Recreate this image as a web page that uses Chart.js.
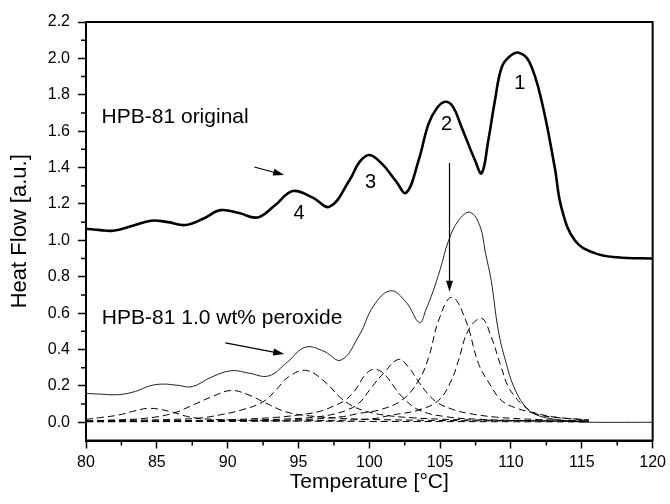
<!DOCTYPE html>
<html>
<head>
<meta charset="utf-8">
<script src="https://cdn.jsdelivr.net/npm/chart.js@4/dist/chart.umd.min.js"></script>
<style>
  html, body { margin: 0; padding: 0; background: #fff; }
  canvas { display: block; }
</style>
</head>
<body>
<canvas id="dsc_chart" width="670" height="504"></canvas>
<script>
// x tick labels and y tick labels
const xTicks = [80, 85, 90, 95, 100, 105, 110, 115, 120];
const yTicks = [0.0, 0.2, 0.4, 0.6, 0.8, 1.0, 1.2, 1.4, 1.6, 1.8, 2.0, 2.2];

// HPB-81 original (thick line), [temperature, heat flow]
const original = [
  [80, 1.064], [81, 1.056], [81.9, 1.053], [83.3, 1.08], [84.6, 1.108], [85.8, 1.1],
  [87, 1.084], [88.3, 1.12], [89.5, 1.166], [90.8, 1.15], [92.1, 1.126], [93.3, 1.19],
  [94.6, 1.271], [96, 1.235], [97.2, 1.185], [98.6, 1.33], [99.3, 1.43], [100, 1.469],
  [100.9, 1.42], [101.84, 1.33], [102.6, 1.262], [103.48, 1.44], [104.18, 1.64],
  [104.8, 1.73], [105.36, 1.762], [105.9, 1.735], [106.52, 1.62], [107.46, 1.44],
  [107.93, 1.368], [108.4, 1.55], [108.87, 1.77], [109.34, 1.95], [109.9, 2.01],
  [110.56, 2.031], [111.3, 1.98], [112.15, 1.77], [113.09, 1.4], [113.56, 1.18],
  [114.5, 1.0], [115.9, 0.93], [117.5, 0.907], [120, 0.9]
];

// HPB-81 1.0 wt% peroxide (thin line)
const peroxide = [
  [80, 0.159], [81, 0.155], [82.3, 0.152], [83.5, 0.17], [84.5, 0.2], [85.4, 0.21],
  [86.5, 0.203], [87.5, 0.196], [88.9, 0.25], [90.3, 0.284], [91.5, 0.27], [92.9, 0.255],
  [94.2, 0.33], [95.5, 0.413], [96.8, 0.39], [98.0, 0.342], [99.3, 0.48], [100.3, 0.64],
  [101.5, 0.723], [102.6, 0.66], [103.55, 0.547], [104.0, 0.62], [104.5, 0.72],
  [105.0, 0.84], [105.6, 1.0], [106.3, 1.11], [107.1, 1.154], [107.8, 1.08], [108.2, 0.93],
  [108.6, 0.78], [109.1, 0.507], [109.6, 0.342], [110.3, 0.177], [111.2, 0.07],
  [112, 0.035], [113, 0.018], [114, 0.007], [115, 0.002], [116, 0], [120, 0]
];

// fitted component peaks (dashed)
const peak1 = [
  [80, 0.016], [81, 0.026], [82.3, 0.04], [83.4, 0.062], [84.5, 0.077], [85.9, 0.06],
  [87, 0.035], [87.7, 0.024], [89, 0.016], [91, 0.011], [95, 0.007], [100, 0.005],
  [105, 0.004], [110, 0.003], [115.5, 0.002]
];
const peak2 = [
  [80, 0.008], [82, 0.013], [84.2, 0.022], [86.1, 0.049], [87.7, 0.1], [88.9, 0.141],
  [90.25, 0.175], [91.5, 0.15], [92.5, 0.113], [94.1, 0.058], [95.8, 0.035], [98, 0.022],
  [100, 0.016], [105, 0.01], [110, 0.007], [115.5, 0.005]
];
const peak3 = [
  [80, 0.008], [84, 0.012], [86, 0.016], [88, 0.023], [89.4, 0.04], [91, 0.068],
  [92.5, 0.113], [93.4, 0.177], [94.3, 0.25], [95.55, 0.285], [96.9, 0.22], [97.9, 0.14],
  [98.8, 0.09], [99.8, 0.06], [101, 0.04], [103, 0.025], [106, 0.015], [110, 0.01],
  [115.5, 0.006]
];
const peak4 = [
  [80, 0.005], [85, 0.008], [90, 0.014], [93, 0.025], [95, 0.04], [96.5, 0.06],
  [97.5, 0.09], [98.3, 0.122], [99, 0.177], [99.7, 0.26], [100.3, 0.291], [101, 0.269],
  [101.7, 0.2], [102.3, 0.141], [103.5, 0.068], [105.4, 0.031], [108, 0.016], [111, 0.01],
  [115.5, 0.006]
];
const peak5 = [
  [80, 0.004], [85, 0.006], [90, 0.01], [94, 0.018], [96, 0.027], [97.5, 0.045],
  [98.5, 0.07], [99.26, 0.104], [100.2, 0.196], [101, 0.269], [102.07, 0.346], [102.8, 0.3],
  [103.4, 0.232], [104.2, 0.15], [104.9, 0.104], [106, 0.068], [107, 0.049], [109, 0.028],
  [112, 0.015], [115.5, 0.008]
];
const peak6 = [
  [80, 0.004], [85, 0.005], [90, 0.008], [95, 0.014], [98, 0.03], [99.26, 0.049],
  [100.7, 0.068], [102.3, 0.122], [103.5, 0.232], [104.2, 0.36], [104.9, 0.562],
  [105.82, 0.687], [106.8, 0.562], [107.7, 0.324], [108.5, 0.21], [109.4, 0.115],
  [110.5, 0.075], [111.45, 0.055], [113, 0.03], [115.5, 0.012]
];
const peak7 = [
  [80, 0.003], [90, 0.005], [95, 0.008], [100, 0.018], [101.6, 0.04], [103.5, 0.068],
  [104.9, 0.122], [105.8, 0.232], [106.3, 0.342], [107, 0.507], [107.93, 0.571],
  [108.6, 0.47], [109.3, 0.305], [109.8, 0.196], [110.3, 0.14], [110.7, 0.104],
  [111.7, 0.049], [113, 0.028], [115.5, 0.013]
];
const peaks = [peak1, peak2, peak3, peak4, peak5, peak6, peak7];

// annotation texts: [x, y, text, align, size]
const notes = [
  [110.63, 1.864, "1", "center", 20],
  [105.45, 1.639, "2", "center", 20],
  [100.08, 1.317, "3", "center", 20],
  [95.04, 1.15, "4", "center", 20],
  [81.1, 1.677, "HPB-81 original", "left", 21],
  [81.12, 0.573, "HPB-81 1.0 wt% peroxide", "left", 21]
];
// arrows: [x0, y0, x1, y1]
const arrows = [
  [91.88, 1.403, 93.99, 1.359],
  [105.66, 1.425, 105.66, 0.717],
  [89.84, 0.437, 93.99, 0.375]
];

const toPoints = (arr) => arr.map(([x, y]) => ({ x, y }));
const FONT = "'Liberation Sans', Arial, sans-serif";

const overlay = {
  id: "overlay",
  afterDraw(chart) {
    const { ctx, chartArea, scales } = chart;
    const xs = scales.x, ys = scales.y;
    ctx.save();
    // frame
    ctx.strokeStyle = "#000";
    ctx.lineWidth = 2;
    ctx.strokeRect(chartArea.left, chartArea.top,
      chartArea.right - chartArea.left, chartArea.bottom - chartArea.top);
    // minor ticks
    ctx.lineWidth = 1.5;
    ctx.beginPath();
    for (let v = 82.5; v < 120; v += 5) {
      const px = xs.getPixelForValue(v);
      ctx.moveTo(px, chartArea.bottom);
      ctx.lineTo(px, chartArea.bottom + 5);
    }
    for (let v = 0.1; v < 2.2; v += 0.2) {
      const py = ys.getPixelForValue(v);
      ctx.moveTo(chartArea.left, py);
      ctx.lineTo(chartArea.left - 5, py);
    }
    ctx.stroke();
    // texts
    ctx.fillStyle = "#000";
    ctx.textBaseline = "middle";
    notes.forEach(([x, y, t, a, s]) => {
      ctx.font = s + "px " + FONT;
      ctx.textAlign = a;
      ctx.fillText(t, xs.getPixelForValue(x), ys.getPixelForValue(y));
    });
    // arrows
    ctx.lineWidth = 1.2;
    arrows.forEach(([x0, y0, x1, y1]) => {
      const ax = xs.getPixelForValue(x0), ay = ys.getPixelForValue(y0);
      const bx = xs.getPixelForValue(x1), by = ys.getPixelForValue(y1);
      const ang = Math.atan2(by - ay, bx - ax);
      ctx.beginPath();
      ctx.moveTo(ax, ay);
      ctx.lineTo(bx - 8 * Math.cos(ang), by - 8 * Math.sin(ang));
      ctx.stroke();
      ctx.beginPath();
      ctx.moveTo(bx, by);
      ctx.lineTo(bx - 11 * Math.cos(ang) + 3.5 * Math.sin(ang), by - 11 * Math.sin(ang) - 3.5 * Math.cos(ang));
      ctx.lineTo(bx - 11 * Math.cos(ang) - 3.5 * Math.sin(ang), by - 11 * Math.sin(ang) + 3.5 * Math.cos(ang));
      ctx.closePath();
      ctx.fill();
    });
    ctx.restore();
  },
};

const datasets = peaks.map((p, i) => ({
  label: "peak " + (i + 1),
  data: toPoints(p),
  borderColor: "#000",
  borderWidth: 1,
  borderDash: [7, 4],
  pointRadius: 0,
  tension: 0.4,
}));
datasets.push({
  label: "HPB-81 1.0 wt% peroxide",
  data: toPoints(peroxide),
  borderColor: "#222",
  borderWidth: 1,
  pointRadius: 0,
  tension: 0.4,
});
datasets.push({
  label: "HPB-81 original",
  data: toPoints(original),
  borderColor: "#000",
  borderWidth: 2.6,
  pointRadius: 0,
  tension: 0.4,
});

new Chart(document.getElementById("dsc_chart"), {
  type: "line",
  data: { datasets },
  options: {
    responsive: false,
    animation: false,
    layout: { padding: { top: 22, right: 15, left: 0, bottom: 0 } },
    plugins: { legend: { display: false }, tooltip: { enabled: false } },
    scales: {
      x: {
        type: "linear",
        min: 80,
        max: 120,
        afterBuildTicks: (scale) => { scale.ticks = xTicks.map((v) => ({ value: v })); },
        afterFit: (scale) => { scale.height = 63.5; },
        ticks: { color: "#000", font: { family: FONT, size: 16 }, padding: 4, maxRotation: 0 },
        grid: { drawOnChartArea: false, drawTicks: true, tickLength: 8, tickColor: "#000", tickWidth: 1.5 },
        border: { color: "#000", width: 2 },
        title: { display: true, text: "Temperature [°C]", color: "#000", font: { family: FONT, size: 21 }, padding: { bottom: 9 } },
      },
      y: {
        type: "linear",
        min: -0.1,
        max: 2.2,
        afterBuildTicks: (scale) => { scale.ticks = yTicks.map((v) => ({ value: v })); },
        afterFit: (scale) => { scale.width = 86; },
        ticks: { color: "#000", font: { family: FONT, size: 16 }, padding: 8, callback: (v) => Number(v).toFixed(1) },
        grid: { drawOnChartArea: false, drawTicks: true, tickLength: 8, tickColor: "#000", tickWidth: 1.5 },
        border: { color: "#000", width: 2 },
        title: { display: true, text: "Heat Flow [a.u.]", color: "#000", font: { family: FONT, size: 22 }, padding: { top: 7 } },
      },
    },
  },
  plugins: [overlay],
});
</script>
</body>
</html>
